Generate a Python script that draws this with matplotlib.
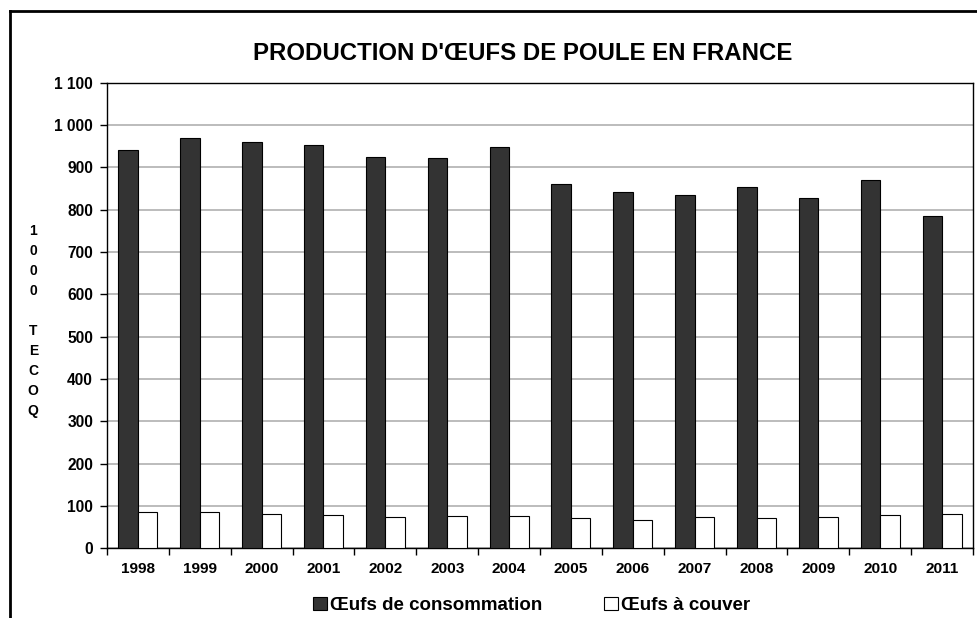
import matplotlib.pyplot as plt
import matplotlib.lines as mlines
import numpy as np

plt.rcParams['font.family'] = ['Liberation Sans', 'DejaVu Sans']

# Production d'oeufs en France (1000 tonnes équivalent coquille)
annees = ['1998', '1999', '2000', '2001', '2002', '2003', '2004',
          '2005', '2006', '2007', '2008', '2009', '2010', '2011']
consommation = [940, 970, 959, 952, 924, 922, 947, 860, 841, 835, 854, 828, 870, 785]
a_couver = [85, 85, 81, 79, 75, 77, 76, 72, 66, 73, 72, 75, 78, 82]

fig = plt.figure(figsize=(9.78, 6.18), dpi=100)
ax = fig.add_axes([0.1094, 0.1128, 0.8855, 0.7534])

x = np.arange(len(annees))
w = 0.315
ax.bar(x - w / 2, consommation, w, color='#333333', edgecolor='black',
       linewidth=0.8, label='Œufs de consommation', zorder=3)
ax.bar(x + w / 2, a_couver, w, color='white', edgecolor='black',
       linewidth=0.8, label='Œufs à couver', zorder=3)

ax.set_xlim(-0.5, len(annees) - 0.5)
ax.set_ylim(0, 1100)
ax.set_yticks(range(0, 1101, 100))
ax.set_yticklabels([f'{v:,}'.replace(',', ' ') for v in range(0, 1101, 100)],
                   fontsize=11.2, fontweight='bold')
ax.set_xticks(x)
ax.set_xticklabels(annees, fontsize=11.1, fontweight='bold')
ax.tick_params(axis='x', length=0, pad=10)
ax.set_xticks(np.arange(-0.5, len(annees)), minor=True)
ax.tick_params(axis='x', which='minor', length=5, width=1, direction='out')
ax.tick_params(axis='y', length=5, width=1, direction='out', pad=5)

ax.yaxis.grid(True, color='#b0b0b0', linewidth=1.2, zorder=0)
ax.set_axisbelow(True)
for s in ax.spines.values():
    s.set_color('black')
    s.set_linewidth(1.0)

fig.text(0.534, 1 - 53 / 618, "PRODUCTION D'ŒUFS DE POULE EN FRANCE",
         ha='center', va='center', fontsize=17.3, fontweight='bold')

fig.text(0.034, 0.4806, '1\n0\n0\n0\n\nT\nE\nC\nO\nQ', ha='center', va='center',
         fontsize=10, fontweight='bold', linespacing=1.55)

ax.legend(loc='center', bbox_to_anchor=(0.490, -57 / 465.6), ncol=2, frameon=False,
          prop={'size': 13.5, 'weight': 'bold'}, handlelength=0.75, handleheight=0.75,
          handletextpad=0.15, columnspacing=3.3, borderpad=0)

# cadre extérieur du graphique
fig.add_artist(mlines.Line2D([10 / 978, 10 / 978], [0, 1 - 11 / 618],
                             color='black', linewidth=2))
fig.add_artist(mlines.Line2D([10 / 978, 1], [1 - 11 / 618, 1 - 11 / 618],
                             color='black', linewidth=2))

fig.savefig('out.png', dpi=100)
